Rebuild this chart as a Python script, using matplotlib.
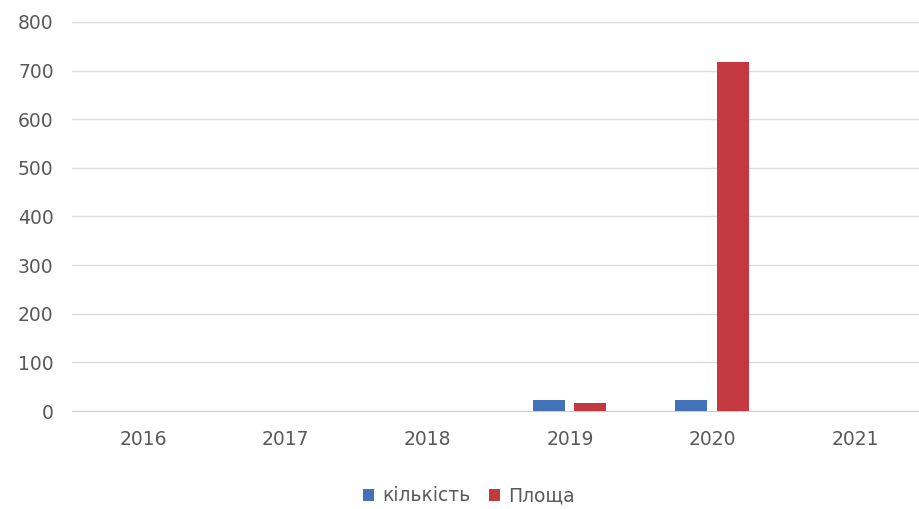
import numpy as np
import matplotlib.pyplot as plt

# yearly values for the two series
years = ['2016', '2017', '2018', '2019', '2020', '2021']
kilkist = [0, 0, 0, 22, 22, 0]
ploshcha = [0, 0, 0, 17, 718, 0]

fig = plt.figure(figsize=(9.19, 5.09), dpi=100)
ax = fig.add_axes([0.078, 0.1925, 0.93, 0.7645])

x = np.arange(len(years))
w = 0.225
ax.bar(x - 0.15, kilkist, w, color='#4472b8', label='кількість', zorder=3)
ax.bar(x + 0.14, ploshcha, w, color='#c3393f', label='Площа', zorder=3)

ax.set_xlim(-0.5, len(years) - 0.5)
ax.set_ylim(0, 800)
ax.set_yticks(range(0, 801, 100))
ax.yaxis.grid(True, color='#dcdcdc', linewidth=1, zorder=0)
for s in ['top', 'right', 'left']:
    ax.spines[s].set_visible(False)
ax.spines['bottom'].set_color('#cfcfcf')
ax.tick_params(axis='both', length=0, colors='#595959', labelsize=13.5)
ax.tick_params(axis='y', pad=13)
ax.tick_params(axis='x', pad=14)
ax.set_xticks(x)
ax.set_xticklabels(years)

fig.legend(loc='lower center', bbox_to_anchor=(0.51, -0.026), ncol=2, frameon=False,
           fontsize=13.5, handlelength=0.6, handleheight=0.6, handletextpad=0.4,
           columnspacing=1.0, labelcolor='#595959')

fig.savefig('out.png')
